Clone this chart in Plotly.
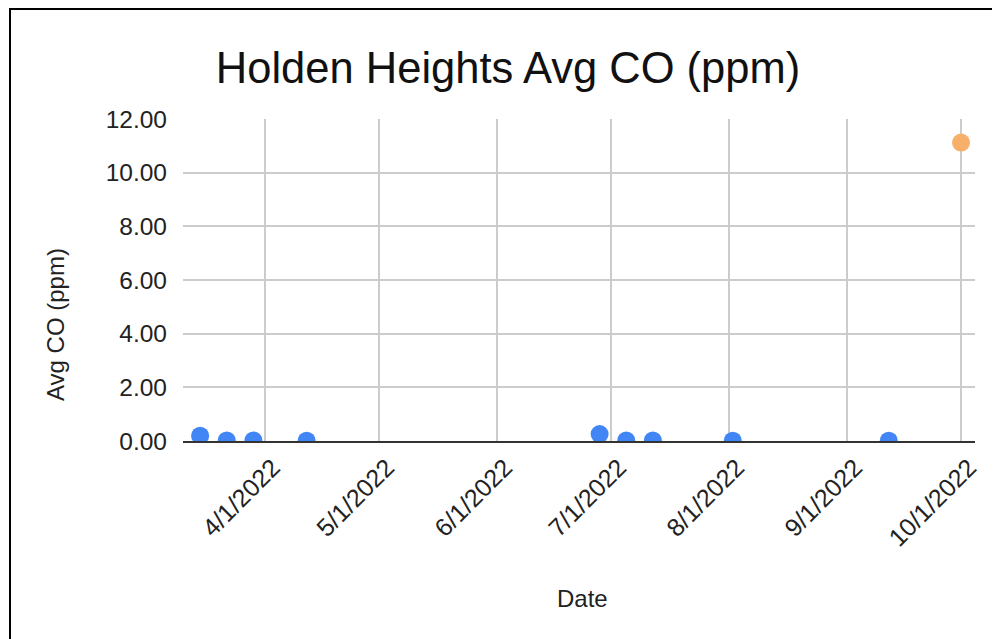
import plotly.graph_objects as go

# Data
dates = ["2022-03-15", "2022-03-22", "2022-03-29", "2022-04-12",
         "2022-06-28", "2022-07-05", "2022-07-12", "2022-08-02",
         "2022-09-12"]
avg_co = [0.20, 0.02, 0.02, 0.01, 0.26, 0.02, 0.02, 0.01, 0.01]

highlight_dates = ["2022-10-01"]
highlight_co = [11.12]

y_ticks = [0, 2, 4, 6, 8, 10, 12]
y_tick_labels = ["0.00", "2.00", "4.00", "6.00", "8.00", "10.00", "12.00"]

FONT = "Liberation Sans, Arial, sans-serif"

fig = go.Figure()
fig.add_trace(go.Scatter(
    x=dates, y=avg_co, mode="markers",
    marker=dict(color="#4285F4", size=18),
    cliponaxis=True, showlegend=False,
))
fig.add_trace(go.Scatter(
    x=highlight_dates, y=highlight_co, mode="markers",
    marker=dict(color="#F6B06A", size=18),
    cliponaxis=True, showlegend=False,
))

# page body has an 8px offset; positions below are in figure pixels
OFF = 8
W, H = 1000, 639
L, R, T, B = 183 - OFF, W - (975 - OFF), 119 - OFF, H - (441 - OFF)
pw = W - L - R
ph = H - T - B


def px_x(x):
    return (x - OFF - L) / pw


def px_y(y):
    return (H - B - (y - OFF)) / ph


fig.update_layout(
    width=W, height=H,
    margin=dict(l=L, r=R, t=T, b=B, pad=0),
    paper_bgcolor="white", plot_bgcolor="white",
    font=dict(family=FONT, color="#222222", size=24),
    title=dict(text="Holden Heights Avg CO (ppm)", x=(508 - OFF) / W, xanchor="center",
               xref="container", y=1 - (68 - OFF) / H, yref="container", yanchor="middle",
               font=dict(size=43.5, color="#111111", family=FONT)),
    xaxis=dict(
        type="date",
        range=["2022-03-10 12:00", "2022-10-04 16:00"],
        tick0="2022-04-01", dtick="M1",
        tickformat="%-m/%-d/%Y",
        tickangle=-45,
        ticklabelshift=8,
        showgrid=True, gridcolor="#cccccc", gridwidth=2,
        showline=True, linecolor="#333333", linewidth=2,
        ticks="", zeroline=False,
        tickfont=dict(size=25, color="#222222"),
    ),
    yaxis=dict(
        range=[0, 12],
        tickvals=y_ticks, ticktext=y_tick_labels,
        showgrid=True, gridcolor="#cccccc", gridwidth=2,
        zeroline=False, showline=False, ticks="",
        ticklabelstandoff=15,
        tickfont=dict(size=24.5, color="#222222"),
    ),
    annotations=[
        dict(text="Avg CO (ppm)", x=px_x(55), y=px_y(325),
             xref="paper", yref="paper", showarrow=False, textangle=-90,
             xanchor="center", yanchor="middle",
             font=dict(size=24, color="#222222", family=FONT)),
        dict(text="Date", x=px_x(582), y=px_y(598),
             xref="paper", yref="paper", showarrow=False,
             xanchor="center", yanchor="middle",
             font=dict(size=24, color="#222222", family=FONT)),
    ],
    shapes=[
        dict(type="rect", xref="paper", yref="paper",
             x0=px_x(10), x1=1.3, y0=-1.0, y1=px_y(9),
             line=dict(color="black", width=2), fillcolor="rgba(0,0,0,0)",
             layer="above"),
    ],
)

fig.write_html("out.html")
